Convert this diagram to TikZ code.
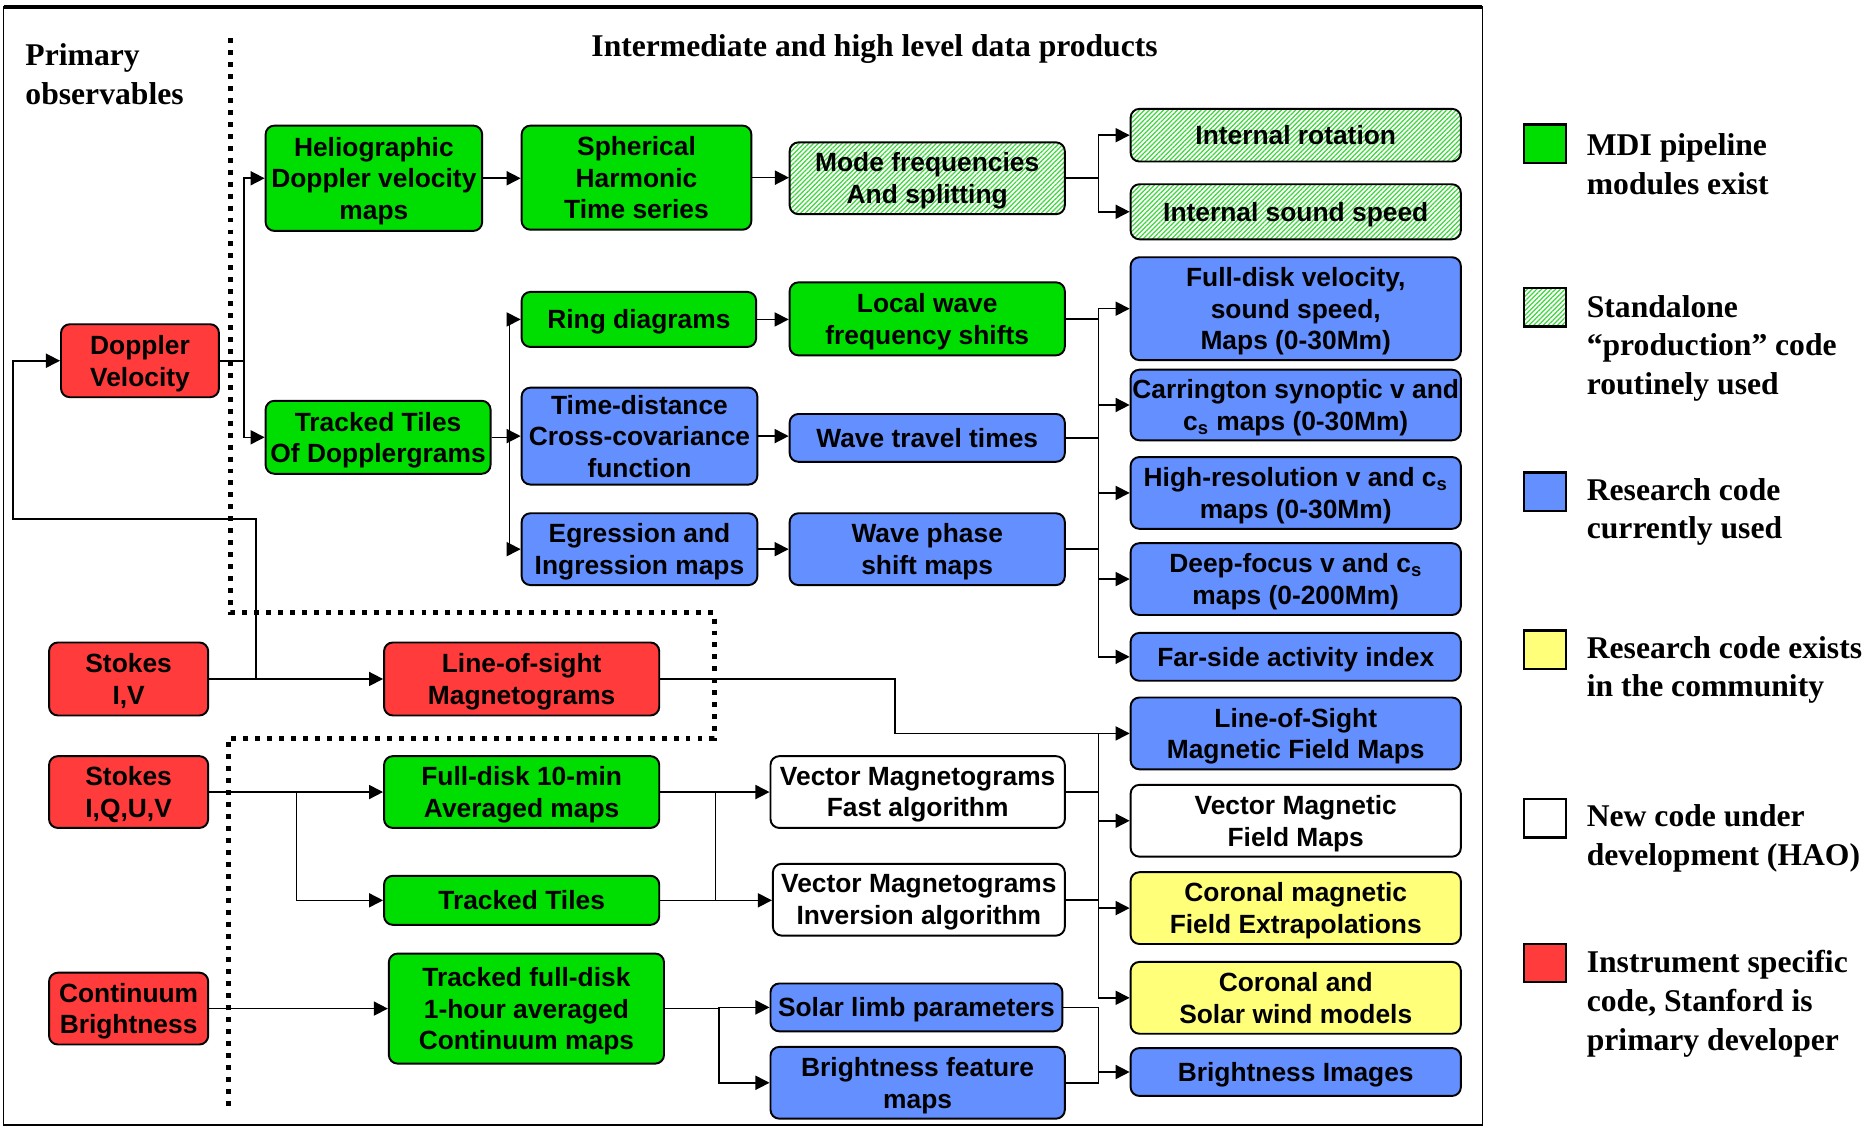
\documentclass[tikz,border=0pt]{standalone}
\usepackage{fontspec}
\setmainfont{Liberation Serif}
\newfontfamily\boxfont{Liberation Sans}
\usetikzlibrary{arrows.meta, patterns.meta}

\definecolor{mdigreen}{RGB}{0,221,0}
\definecolor{hatchgreen}{RGB}{60,215,60}
\definecolor{resblue}{RGB}{100,143,255}
\definecolor{commyellow}{RGB}{255,255,122}
\definecolor{instred}{RGB}{255,59,59}

\begin{document}
\begin{tikzpicture}[
  x=0.02393cm, y=-0.02393cm,
  area/.style 2 args={minimum width=#1*0.02393cm, minimum height=#2*0.02393cm},
  box/.style={draw, line width=1.1pt, rounded corners=5pt, inner sep=0pt, align=center,
    text depth=0pt, font=\boxfont\bfseries\fontsize{15}{18}\selectfont},
  mdi/.style={box, fill=mdigreen},
  prod/.style={box, pattern={Lines[angle=45, distance=1.9pt, line width=0.7pt]},
    pattern color=hatchgreen},
  research/.style={box, fill=resblue},
  community/.style={box, fill=commyellow},
  newcode/.style={box, fill=white},
  instr/.style={box, fill=instred},
  key/.style={draw, line width=1.3pt, inner sep=0pt, area={35}{32}},
  heading/.style={font=\bfseries\fontsize{18}{22}\selectfont, align=left, inner sep=0pt},
  link/.style={line width=0.9pt},
  flow/.style={link, -{Triangle[length=8pt, width=8pt]}}
]
\useasboundingbox (0,0) rectangle (1568,942);

% ── frame and the observables / products divide ─────────────────────
\draw[line width=1pt] (3,6) rectangle (1239,940);
\draw[line width=2pt] (3,6) -- (1239,6);
\draw[line width=2.8pt, dash pattern=on 2.8pt off 4pt]
  (193,32) -- (193,512) -- (597,512) -- (597,617) -- (191,617) -- (191,925);

\node[heading, anchor=west] (primary) at (21,62) {Primary\\observables};
\node[heading] (products) at (731,41) {Intermediate and high level data products};

% ── primary observables ─────────────────────────────────────────────
\node[instr, area={132}{61}] (dopv) at (117,301.5) {Doppler\\Velocity};
\node[instr, area={133}{61}] (siv) at (107.5,567.5) {Stokes\\I,V};
\node[instr, area={133}{60}] (siquv) at (107.5,662) {Stokes\\I,Q,U,V};
\node[instr, area={133}{60}] (cont) at (107.5,843) {Continuum\\Brightness};

% ── helioseismology chain ───────────────────────────────────────────
\node[mdi, area={181}{88}] (helio) at (312.5,149) {Heliographic\\Doppler velocity\\maps};
\node[mdi, area={192}{87}] (sht) at (532,148.5) {Spherical\\Harmonic\\Time series};
\node[prod, area={230}{60}] (mode) at (775,149) {Mode frequencies\\And splitting};
\node[prod, area={276}{44}] (introt) at (1083,113) {Internal rotation};
\node[prod, area={276}{46}] (intsnd) at (1083,177) {Internal sound speed};

\node[mdi, area={188}{61}] (ttod) at (316,365.5) {Tracked Tiles\\Of Dopplergrams};
\node[mdi, area={196}{46}] (ring) at (534,267) {Ring diagrams};
\node[research, area={197}{81}] (tdist) at (534.5,364.5) {Time-distance\\Cross-covariance\\function};
\node[research, area={197}{60}] (egress) at (534.5,459) {Egression and\\Ingression maps};
\node[mdi, area={230}{61}] (lwave) at (775,266.5) {Local wave\\frequency shifts};
\node[research, area={230}{40}] (wtravel) at (775,366) {Wave travel times};
\node[research, area={230}{60}] (wphase) at (775,459) {Wave phase\\shift maps};

\node[research, area={276}{86}] (fdmaps) at (1083,258) {Full-disk velocity,\\sound speed,\\Maps (0-30Mm)};
\node[research, area={276}{59}] (carr) at (1083,338.5) {Carrington synoptic v and\\c\textsubscript{s} maps (0-30Mm)};
\node[research, area={276}{60}] (hires) at (1083,412) {High-resolution v and c\textsubscript{s}\\maps (0-30Mm)};
\node[research, area={276}{60}] (deep) at (1083,484) {Deep-focus v and c\textsubscript{s}\\maps (0-200Mm)};
\node[research, area={276}{40}] (farside) at (1083,549) {Far-side activity index};

% ── magnetic and continuum chain ────────────────────────────────────
\node[instr, area={230}{61}] (losm) at (436,567.5) {Line-of-sight\\Magnetograms};
\node[mdi, area={230}{60}] (fd10) at (436,662) {Full-disk 10-min\\Averaged maps};
\node[mdi, area={230}{41}] (trt) at (436,752.5) {Tracked Tiles};
\node[mdi, area={230}{92}] (tfd) at (440,843) {Tracked full-disk\\1-hour averaged\\Continuum maps};
\node[newcode, area={246}{60}] (vfast) at (767,662) {Vector Magnetograms\\Fast algorithm};
\node[newcode, area={244}{60}] (vinv) at (768,752) {Vector Magnetograms\\Inversion algorithm};
\node[research, area={244}{40}] (limb) at (766,842) {Solar limb parameters};
\node[research, area={246}{60}] (bfeat) at (767,905) {Brightness feature\\maps};

\node[research, area={276}{60}] (losmap) at (1083,613) {Line-of-Sight\\Magnetic Field Maps};
\node[newcode, area={276}{60}] (vecmap) at (1083,686) {Vector Magnetic\\Field Maps};
\node[community, area={276}{60}] (corext) at (1083,759) {Coronal magnetic\\Field Extrapolations};
\node[community, area={276}{60}] (corsw) at (1083,834) {Coronal and\\Solar wind models};
\node[research, area={276}{40}] (bimg) at (1083,896) {Brightness Images};

% ── connectors ──────────────────────────────────────────────────────
\coordinate (loop) at (11,434);
\coordinate (busA) at (918,0);
\coordinate (busV) at (598,0);
\coordinate (losbend) at (748,0);

\draw[flow] (dopv.east) -- ++(20,0) |- (helio.west);
\draw[flow] (dopv.east) -- ++(20,0) |- (ttod.west);
\draw[flow] (siv.east) -- ++(39,0) |- (loop) |- (dopv.west);
\draw[flow] (siv.east) -- (losm.west);

\draw[flow] (helio.east) -- (helio.east -| sht.west);
\draw[flow] (sht.east) -- (sht.east -| mode.west);
\draw[flow] (mode.east) -- (mode.east -| busA) |- (introt.west);
\draw[flow] (mode.east) -- (mode.east -| busA) |- (intsnd.west);

\draw[flow] (ttod.east) -- ++(15,0) |- (ring.west);
\draw[flow] (ttod.east) -- ++(15,0) |- (tdist.west);
\draw[flow] (ttod.east) -- ++(15,0) |- (egress.west);
\draw[flow] (ring.east) -- (ring.east -| lwave.west);
\draw[flow] (tdist.east) -- (tdist.east -| wtravel.west);
\draw[flow] (egress.east) -- (egress.east -| wphase.west);

\draw[link] (lwave.east) -- (lwave.east -| busA);
\draw[link] (wtravel.east) -- (wtravel.east -| busA);
\draw[link] (wphase.east) -- (wphase.east -| busA);
\draw[link] (busA |- fdmaps.west) -- (busA |- farside.west);
\draw[flow] (busA |- fdmaps.west) -- (fdmaps.west);
\draw[flow] (busA |- carr.west) -- (carr.west);
\draw[flow] (busA |- hires.west) -- (hires.west);
\draw[flow] (busA |- deep.west) -- (deep.west);
\draw[flow] (busA |- farside.west) -- (farside.west);

\draw[flow] (losm.east) -- (losm.east -| losbend) |- (losmap.west);

\draw[flow] (siquv.east) -- (fd10.west);
\draw[flow] (siquv.east) -- ++(73,0) |- (trt.west);
\draw[flow] (fd10.east) -- (vfast.west);
\draw[flow] (trt.east) -- (trt.east -| vinv.west);
\draw[link] (fd10.east -| busV) -- (trt.east -| busV);

\draw[link] (vfast.east) -- (vfast.east -| busA);
\draw[link] (vinv.east) -- (vinv.east -| busA);
\draw[link] (busA |- losmap.west) -- (busA |- corsw.west);
\draw[flow] (busA |- vecmap.west) -- (vecmap.west);
\draw[flow] (busA |- corext.west) -- (corext.west);
\draw[flow] (busA |- corsw.west) -- (corsw.west);

\draw[flow] (cont.east) -- (cont.east -| tfd.west);
\draw[flow] (tfd.east) -- ++(45,0) |- (limb.west);
\draw[flow] (tfd.east) -- ++(45,0) |- (bfeat.west);
\draw[link] (limb.east) -- (limb.east -| busA) |- (bfeat.east);
\draw[flow] (busA |- bimg.west) -- (bimg.west);

% ── legend ──────────────────────────────────────────────────────────
\node[key, fill=mdigreen] (keymdi) at (1291.5,120) {};
\node[heading, anchor=west] (txtmdi) at (1326,137) {MDI pipeline\\modules exist};
\node[key, pattern={Lines[angle=45, distance=1.9pt, line width=0.7pt]},
  pattern color=hatchgreen] (keyprod) at (1291.5,257) {};
\node[heading, anchor=west] (txtprod) at (1326,291) {Standalone\\“production” code\\routinely used};
\node[key, fill=resblue] (keyres) at (1291.5,411) {};
\node[heading, anchor=west] (txtres) at (1326,428) {Research code\\currently used};
\node[key, fill=commyellow] (keycomm) at (1291.5,543) {};
\node[heading, anchor=west] (txtcomm) at (1326,560) {Research code exists\\in the community};
\node[key, fill=white] (keynew) at (1291.5,684) {};
\node[heading, anchor=west] (txtnew) at (1326,701) {New code under\\development (HAO)};
\node[key, fill=instred] (keyinst) at (1291.5,805) {};
\node[heading, anchor=west] (txtinst) at (1326,839) {Instrument specific\\code, Stanford is\\primary developer};

\end{tikzpicture}
\end{document}
